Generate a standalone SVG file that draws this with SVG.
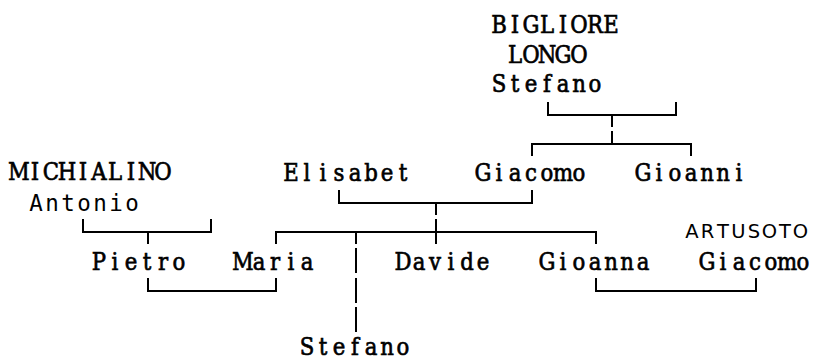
<svg xmlns="http://www.w3.org/2000/svg" width="814" height="360" viewBox="0 0 814 360">
<style>
.n{font-family:"DejaVu Serif","Liberation Serif",serif;font-size:25px;fill:#000;stroke:#000;stroke-width:0.7;text-anchor:middle}
.m{font-family:"DejaVu Sans Mono","Liberation Mono",monospace;font-size:22.5px;fill:#000;text-anchor:middle}
.s{font-family:"DejaVu Sans","Liberation Sans",sans-serif;font-size:19.5px;fill:#000;text-anchor:middle}
.c{fill:none;stroke:#000;stroke-width:2}
</style>
<rect width="814" height="360" fill="#fff"/>
<g id="connectors" class="c">
<path d="M548,102V115H676V102M612,115V127M612,131V144M532,156V144H691V156"/>
<path d="M339,190V203H532V190M436,203V215"/>
<path d="M83,219V232H211V219M148,232V244"/>
<path d="M276,244V232H596V244M436,219V244M356,232V244"/>
<path d="M356,248V273M356,278V303M356,307V332"/>
<path d="M148,278V291H276V278M596,278V291H756V278"/>
</g>
<g id="node-bigliore">
<text class="n" transform="translate(491,0) scale(0.85,1)" x="9.41 28.24 47.06 65.88 84.71 103.53 122.35 141.18 160 178.82" y="33">BIGLIORE</text>
<text class="n" transform="translate(507,0) scale(0.85,1)" x="9.41 28.24 47.06 65.88 84.71 103.53 122.35 141.18 160 178.82" y="63">LONGO</text>
<text class="n" transform="translate(491,0) scale(0.85,1)" x="9.41 28.24 47.06 65.88 84.71 103.53 122.35 141.18 160 178.82" y="92">Stefano</text>
</g>
<g id="node-michialino">
<text class="n" transform="translate(11,0) scale(0.85,1)" x="9.41 28.24 47.06 65.88 84.71 103.53 122.35 141.18 160 178.82" y="180">MICHIALINO</text>
<text class="m" x="36 52 68 84 100 116 132" y="211">Antonio</text>
</g>
<g id="node-elisabet"><text class="n" transform="translate(283,0) scale(0.85,1)" x="9.41 28.24 47.06 65.88 84.71 103.53 122.35 141.18 160 178.82" y="181">Elisabet</text></g>
<g id="node-giacomo"><text class="n" transform="translate(475,0) scale(0.85,1)" x="9.41 28.24 47.06 65.88 84.71 103.53 122.35 141.18 160 178.82" y="181">Giacomo</text></g>
<g id="node-gioanni"><text class="n" transform="translate(635,0) scale(0.85,1)" x="9.41 28.24 47.06 65.88 84.71 103.53 122.35 141.18 160 178.82" y="181">Gioanni</text></g>
<g id="node-pietro"><text class="n" transform="translate(91,0) scale(0.85,1)" x="9.41 28.24 47.06 65.88 84.71 103.53 122.35 141.18 160 178.82" y="270">Pietro</text></g>
<g id="node-maria"><text class="n" transform="translate(235,0) scale(0.85,1)" x="9.41 28.24 47.06 65.88 84.71 103.53 122.35 141.18 160 178.82" y="270">Maria</text></g>
<g id="node-davide"><text class="n" transform="translate(395,0) scale(0.85,1)" x="9.41 28.24 47.06 65.88 84.71 103.53 122.35 141.18 160 178.82" y="270">Davide</text></g>
<g id="node-gioanna"><text class="n" transform="translate(539,0) scale(0.85,1)" x="9.41 28.24 47.06 65.88 84.71 103.53 122.35 141.18 160 178.82" y="270">Gioanna</text></g>
<g id="node-artusoto">
<text class="s" x="692 707.5 723 738.5 754 769.5 785 800.5" y="238">ARTUSOTO</text>
<text class="n" transform="translate(699,0) scale(0.85,1)" x="9.41 28.24 47.06 65.88 84.71 103.53 122.35 141.18 160 178.82" y="270">Giacomo</text>
</g>
<g id="node-stefano"><text class="n" transform="translate(299,0) scale(0.85,1)" x="9.41 28.24 47.06 65.88 84.71 103.53 122.35 141.18 160 178.82" y="355">Stefano</text></g>
</svg>
